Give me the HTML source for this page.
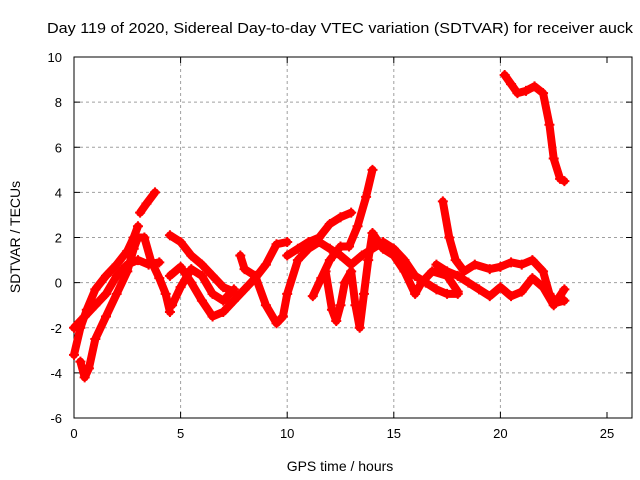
<!DOCTYPE html>
<html><head><meta charset="utf-8"><style>
body{margin:0;background:#fff}
svg{display:block;font-family:"Liberation Sans",sans-serif}
</style></head><body>
<svg id="chart" width="640" height="480">
<text x="340" y="33" text-anchor="middle" font-size="15" textLength="586" lengthAdjust="spacingAndGlyphs">Day 119 of 2020, Sidereal Day-to-day VTEC variation (SDTVAR) for receiver auck</text>
<text x="340" y="471" text-anchor="middle" font-size="14">GPS time / hours</text>
<text transform="translate(20,237) rotate(-90)" text-anchor="middle" font-size="14">SDTVAR / TECUs</text>
<g id="grid"></g><g id="axes"></g><g id="marks"></g>
</svg>
<script>
const xTicks=[0,5,10,15,20,25];
const yTicks=[-6,-4,-2,0,2,4,6,8,10];
const track1=[[0,-3.2],[0.3,-2],[0.6,-1.2],[1,-0.3],[1.5,0.3],[2,0.8],[2.5,1.4],[2.8,2.0],[3,2.5]];
const track2=[[3.1,3.1],[3.4,3.5],[3.8,4.0]];
const track3=[[0.3,-3.5],[0.5,-4.2],[0.7,-3.8],[1,-2.5],[1.5,-1.5],[2,-0.5],[2.5,0.5],[2.8,1.5],[3,2.0],[3.3,2.0],[3.6,1.0],[4,0.2],[4.3,-0.5],[4.5,-1.3]];
const track4=[[0,-2],[0.5,-1.5],[1,-1],[1.5,-0.5],[2,0.3],[2.5,0.8],[3,1.0],[3.5,0.8],[4,0.9]];
const track5=[[4.5,2.1],[5,1.8],[5.5,1.2],[6,0.8],[6.5,0.3],[7,-0.2],[7.5,-0.4]];
const track6=[[4.5,0.3],[5,0.7],[5.5,0.0],[6,-0.8],[6.5,-1.5],[7,-1.3],[7.5,-0.8],[8,-0.3],[8.5,0.2],[9,0.8],[9.5,1.7],[10,1.8]];
const track7=[[4.6,-1.0],[5,-0.2],[5.5,0.6],[6,0.3],[6.5,-0.5],[7,-0.8],[7.5,-0.3]];
const track8=[[7.8,1.2],[8,0.6],[8.5,0.3],[9,-1.0],[9.5,-1.8],[9.8,-1.5],[10,-0.5],[10.5,1.0],[11,1.5],[11.5,1.8],[12,1.5],[12.5,1.2],[13,0.8],[13.5,1.2],[14,1.5],[14.5,1.8],[15,1.5],[15.5,1.0],[16,0.3],[16.5,0],[17,-0.3],[17.5,-0.5],[18,-0.5]];
const track9=[[10,1.2],[10.5,1.5],[11,1.8],[11.5,2.0],[12,2.6],[12.5,2.9],[13,3.1]];
const track10=[[11.2,-0.6],[11.6,0.2],[12,1.0],[12.5,1.6],[12.9,1.6],[13.3,2.5],[13.7,3.8],[14,5.0]];
const track11=[[11.8,0.5],[12.1,-1.2],[12.3,-1.7],[12.5,-1.0],[12.7,0.0],[13,0.5],[13.2,-1.0],[13.4,-2.0],[13.6,-0.5],[13.8,1.0],[14,2.2],[14.5,1.5],[15,1.2],[15.5,0.5],[16,-0.5],[16.3,0.0],[16.8,0.5],[17.5,0.3],[18,-0.4]];
const track12=[[17.3,3.6],[17.6,2.0],[17.9,1.0],[18.3,0.5],[18.8,0.8],[19.5,0.6],[20,0.7],[20.5,0.9],[21,0.8],[21.5,1.0],[22,0.5],[22.3,-0.5],[22.6,-0.9],[23,-0.8]];
const track13=[[17,0.8],[17.5,0.5],[18,0.3],[18.5,0],[19,-0.3],[19.5,-0.6],[20,-0.2],[20.5,-0.6],[21,-0.4],[21.5,0.2],[22,-0.2],[22.5,-1.0],[23,-0.3]];
const track14=[[20.2,9.2],[20.5,8.8],[20.8,8.4],[21.2,8.5],[21.6,8.7],[22,8.4],[22.3,7],[22.5,5.5],[22.8,4.6],[23,4.5]];
const tracks=[track1,track2,track3,track4,track5,track6,track7,track8,track9,track10,track11,track12,track13,track14];
const X0=74,X1=607,Y0=418,Y1=57;
const xs=v=>X0+(v-0)/25*(X1-X0);
const ys=v=>Y0-(v+6)/16*(Y0-Y1);
const NS="http://www.w3.org/2000/svg";
const grid=document.getElementById('grid'),axes=document.getElementById('axes'),marks=document.getElementById('marks');
function mk(tag,attrs,parent){const e=document.createElementNS(NS,tag);for(const k in attrs)e.setAttribute(k,attrs[k]);parent.appendChild(e);return e;}
xTicks.forEach(t=>{const x=xs(t);
 if(t>0&&t<25){const g=mk('line',{x1:x,x2:x,y1:Y1,y2:Y0,stroke:'#a0a0a0','stroke-dasharray':'3,3'},grid);}
 const tx=mk('text',{x:x,y:Y0+20,'text-anchor':'middle','font-size':13},axes);tx.textContent=t;
 
 
 mk('line',{x1:x,x2:x,y1:Y0,y2:Y0-6,stroke:'#000'},axes);mk('line',{x1:x,x2:x,y1:Y1,y2:Y1+6,stroke:'#000'},axes);});
yTicks.forEach(t=>{const y=ys(t);
 if(t>-6&&t<10){const g=mk('line',{x1:X0,x2:X1+25,y1:y,y2:y,stroke:'#a0a0a0','stroke-dasharray':'3,3'},grid);}
 const tx=mk('text',{x:X0-12,y:y+5,'text-anchor':'end','font-size':13},axes);tx.textContent=t;
 
 
 mk('line',{x1:X0,x2:X0+6,y1:y,y2:y,stroke:'#000'},axes);mk('line',{x1:X1+25,x2:X1+19,y1:y,y2:y,stroke:'#000'},axes);});
const frame=mk('rect',{x:X0,y:Y1,width:X1+25-X0,height:Y0-Y1,fill:'none',stroke:'#000'},axes);


tracks.forEach(tr=>{
 const pl=mk('polyline',{points:tr.map(p=>xs(p[0])+','+ys(p[1])).join(' '),fill:'none',stroke:'#f00','stroke-width':8,'stroke-linejoin':'round','stroke-linecap':'round'},marks);
 
 
 tr.forEach(p=>{const x=xs(p[0]),y=ys(p[1]);
  const m=mk('path',{d:`M${x-5},${y}H${x+5}M${x},${y-5}V${y+5}`,stroke:'#f00','stroke-width':2},marks);
  
  });
});
</script>
</body></html>
